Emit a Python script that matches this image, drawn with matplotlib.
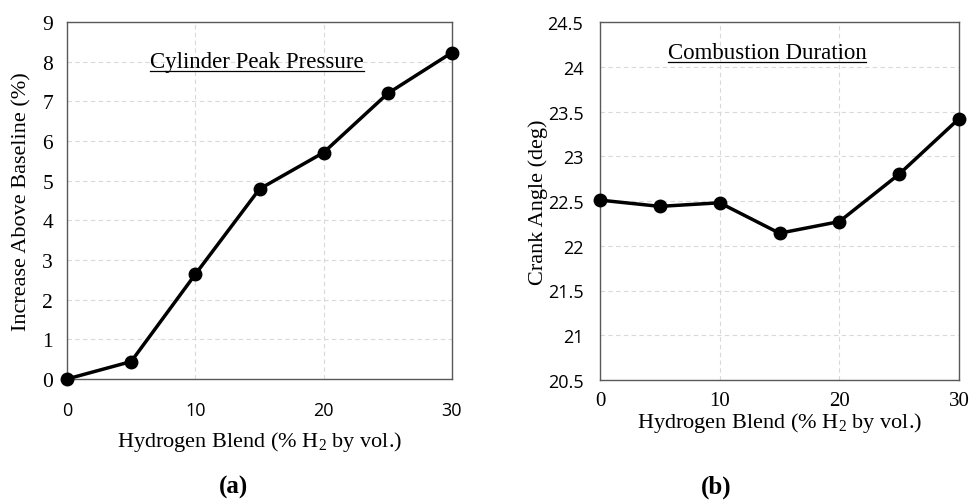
import matplotlib
matplotlib.use("Agg")
import matplotlib.pyplot as plt
from matplotlib.lines import Line2D

plt.rcParams["mathtext.fontset"] = "custom"
plt.rcParams["mathtext.rm"] = "Liberation Serif"
plt.rcParams["mathtext.it"] = "Liberation Serif:italic"
plt.rcParams["mathtext.default"] = "rm"

blend = [0, 5, 10, 15, 20, 25, 30]
peak_pressure = [0.0, 0.44, 2.64, 4.79, 5.71, 7.20, 8.23]
comb_duration = [22.51, 22.44, 22.48, 22.14, 22.27, 22.80, 23.42]
x_ticks = [0, 10, 20, 30]
y_ticks_a = [0, 1, 2, 3, 4, 5, 6, 7, 8, 9]
y_ticks_b = [20.5, 21, 21.5, 22, 22.5, 23, 23.5, 24, 24.5]
y_tick_labels_b = ["20.5", "21", "21.5", "22", "22.5", "23", "23.5", "24", "24.5"]

SERIF = "Liberation Serif"
SANS = "Open Sans"

fig = plt.figure(figsize=(9.69, 5.02), dpi=100)
W, H = 969, 502

def add_ax(l, t, r, b):
    return fig.add_axes([l / W, 1 - b / H, (r - l) / W, (b - t) / H])

axa = add_ax(67, 23, 452, 380)
axb = add_ax(600, 23, 959, 381)

def style(ax):
    ax.grid(True, color="#d9d9d9", linestyle=(0, (4, 3)), linewidth=0.8)
    ax.set_axisbelow(True)
    for s in ax.spines.values():
        s.set_color("#595959")
        s.set_linewidth(1.0)
    ax.tick_params(length=0)

# (a)
axa.plot(blend, peak_pressure, color="black", lw=2.5, marker="o", ms=9, clip_on=False, zorder=3)
axa.set_xlim(0, 30)
axa.set_ylim(0, 9)
axa.set_xticks(x_ticks)
axa.set_yticks(y_ticks_a)
style(axa)
axa.tick_params(axis="x", pad=16)
axa.tick_params(axis="y", pad=10)
for lab in axa.get_yticklabels():
    lab.set_fontfamily(SERIF); lab.set_fontsize(15.5)
for lab in axa.get_xticklabels():
    lab.set_fontfamily(SANS); lab.set_fontsize(13)
axa.set_ylabel("Increase Above Baseline (%)", fontfamily=SERIF, fontsize=16, labelpad=8)
axa.set_xlabel(r"Hydrogen Blend (% H$_2$ by vol.)", fontfamily=SERIF, fontsize=16, labelpad=7)
ta = axa.text(0.494, 0.888, "Cylinder Peak Pressure", transform=axa.transAxes,
              ha="center", va="center", fontfamily=SERIF, fontsize=16.5)

# (b)
axb.plot(blend, comb_duration, color="black", lw=2.5, marker="o", ms=9, clip_on=False, zorder=3)
axb.set_xlim(0, 30)
axb.set_ylim(20.5, 24.5)
axb.set_xticks(x_ticks)
axb.set_yticks(y_ticks_b)
axb.set_yticklabels(y_tick_labels_b)
style(axb)
for lab in axb.get_yticklabels():
    lab.set_fontfamily(SANS); lab.set_fontsize(13)
for lab in axb.get_xticklabels():
    lab.set_fontfamily(SERIF); lab.set_fontsize(15)
axb.tick_params(axis="x", pad=8)
axb.tick_params(axis="y", pad=12)
axb.set_ylabel("Crank Angle (deg)", fontfamily=SERIF, fontsize=16, labelpad=0)
axb.set_xlabel(r"Hydrogen Blend (% H$_2$ by vol.)", fontfamily=SERIF, fontsize=16, labelpad=0)
tb = axb.text(0.465, 0.916, "Combustion Duration", transform=axb.transAxes,
              ha="center", va="center", fontfamily=SERIF, fontsize=16.5)

fig.text(233 / W, 1 - 487 / H, "(a)", ha="center", va="center", fontfamily=SERIF, fontsize=18, fontweight="bold")
fig.text(716 / W, 1 - 487 / H, "(b)", ha="center", va="center", fontfamily=SERIF, fontsize=18, fontweight="bold")

# underline the in-plot titles
fig.canvas.draw()
r = fig.canvas.get_renderer()
for t, ax in ((ta, axa), (tb, axb)):
    bb = t.get_window_extent(renderer=r)
    inv = fig.transFigure.inverted()
    (x0, y0) = inv.transform((bb.x0, bb.y0 + 1))
    (x1, _) = inv.transform((bb.x1, bb.y0 + 1))
    fig.add_artist(Line2D([x0, x1], [y0, y0], transform=fig.transFigure, color="black", lw=0.9))

fig.savefig("out.png", dpi=100, facecolor="white")
